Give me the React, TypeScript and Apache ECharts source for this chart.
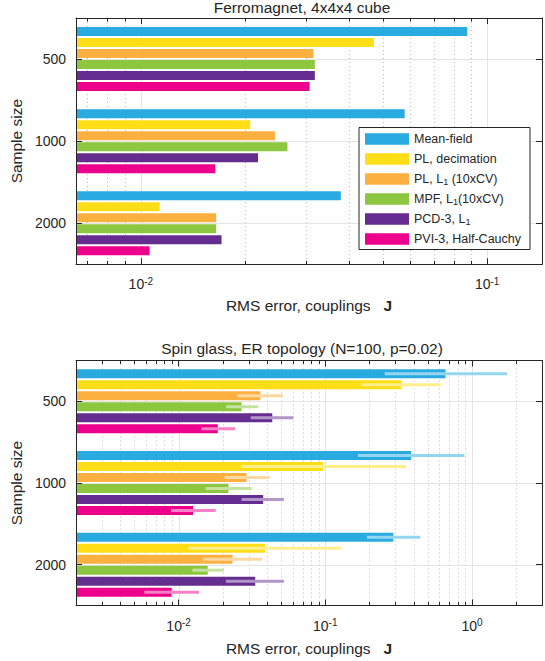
import React, { useEffect, useRef } from 'react';
import * as echarts from 'echarts';

// ---------- data ----------
const methods = ['Mean-field', 'PL, decimation', 'PL, L1 (10xCV)', 'MPF, L1(10xCV)', 'PCD-3, L1', 'PVI-3, Half-Cauchy'];
const sampleSizes = ['500', '1000', '2000'];
const colors = ['#29ABE2', '#FFDE17', '#FBB040', '#8DC63F', '#662D91', '#EC008C'];
const errColors = ['#94D5F0', '#FFEF8B', '#FDD8A0', '#C6E29F', '#B396C8', '#F580C5'];

// Ferromagnet, 4x4x4 cube: RMS error per sample size (500, 1000, 2000)
const ferroMeanField = [0.0876, 0.0578, 0.0378];
const ferroPLDecimation = [0.0471, 0.0207, 0.01133];
const ferroPLL1 = [0.0315, 0.0244, 0.0165];
const ferroMPFL1 = [0.0318, 0.0265, 0.0165];
const ferroPCD3 = [0.0318, 0.0218, 0.0171];
const ferroPVI3 = [0.0307, 0.0164, 0.0106];

// Spin glass, ER topology: mean, low, high per sample size
const spinMeanField = [0.66, 0.385, 0.291];
const spinMeanFieldLo = [0.254, 0.167, 0.1925];
const spinMeanFieldHi = [1.73, 0.888, 0.444];
const spinPLDecimation = [0.33, 0.0969, 0.0389];
const spinPLDecimationLo = [0.1775, 0.0267, 0.01167];
const spinPLDecimationHi = [0.612, 0.356, 0.128];
const spinPLL1 = [0.0361, 0.029, 0.0233];
const spinPLL1Lo = [0.0252, 0.0206, 0.01473];
const spinPLL1Hi = [0.0514, 0.0416, 0.0371];
const spinMPFL1 = [0.0269, 0.0219, 0.0158];
const spinMPFL1Lo = [0.0211, 0.0153, 0.01242];
const spinMPFL1Hi = [0.0349, 0.0315, 0.0203];
const spinPCD3 = [0.0435, 0.0377, 0.0333];
const spinPCD3Lo = [0.031, 0.0269, 0.021];
const spinPCD3Hi = [0.0606, 0.0522, 0.0522];
const spinPVI3 = [0.0185, 0.01255, 0.00897];
const spinPVI3Lo = [0.01428, 0.00888, 0.00584];
const spinPVI3Hi = [0.0243, 0.0179, 0.01377];

// axis ranges and gridline values
const ferroRange = [0.0065, 0.144];
const spinRange = [0.002, 3];
const ferroMajor = [0.01, 0.1];
const ferroMinor = [0.007, 0.008, 0.009, 0.02, 0.03, 0.04, 0.05, 0.06, 0.07, 0.08, 0.09];
const spinMajor = [0.01, 0.1, 1];
const spinMinor = [0.003, 0.004, 0.005, 0.006, 0.007, 0.008, 0.009, 0.02, 0.03, 0.04, 0.05, 0.06, 0.07, 0.08, 0.09, 0.2, 0.3, 0.4, 0.5, 0.6, 0.7, 0.8, 0.9, 2];

const ferroSeries = [ferroMeanField, ferroPLDecimation, ferroPLL1, ferroMPFL1, ferroPCD3, ferroPVI3];
const spinSeries = [spinMeanField, spinPLDecimation, spinPLL1, spinMPFL1, spinPCD3, spinPVI3];
const spinLo = [spinMeanFieldLo, spinPLDecimationLo, spinPLL1Lo, spinMPFL1Lo, spinPCD3Lo, spinPVI3Lo];
const spinHi = [spinMeanFieldHi, spinPLDecimationHi, spinPLL1Hi, spinMPFL1Hi, spinPCD3Hi, spinPVI3Hi];

// ---------- styling ----------
const FONT = 'Helvetica, Arial, "Liberation Sans", sans-serif';
const INK = '#262626';
const STEP = 11;
const BAR = 9;

function barRender(mi: number, withErr: boolean) {
  return (params: any, api: any) => {
    const cs = params.coordSys;
    const cat = api.value(1);
    const p = api.coord([api.value(0), cat]);
    const yc = p[1] + (mi - 2.5) * STEP;
    const children: any[] = [
      {
        type: 'rect',
        shape: { x: cs.x, y: yc - BAR / 2, width: Math.max(0, p[0] - cs.x), height: BAR },
        style: { fill: colors[mi] },
      },
    ];
    if (withErr) {
      const lo = api.coord([api.value(2), cat])[0];
      const hi = api.coord([api.value(3), cat])[0];
      children.push({
        type: 'line',
        shape: { x1: lo, y1: yc, x2: hi, y2: yc },
        style: { stroke: errColors[mi], lineWidth: 3, lineCap: 'butt' },
      });
    }
    return { type: 'group', children };
  };
}

function vGridRender(major: boolean) {
  return (params: any, api: any) => {
    const cs = params.coordSys;
    const x = Math.round(api.coord([api.value(0), 0])[0]) + 0.5;
    const children: any[] = [
      {
        type: 'line',
        shape: { x1: x, y1: cs.y, x2: x, y2: cs.y + cs.height },
        style: major
          ? { stroke: '#E4E4E4', lineWidth: 1 }
          : { stroke: '#BDBDBD', lineWidth: 1, lineDash: [1, 3] },
      },
    ];
    if (!major) {
      children.push({
        type: 'line',
        shape: { x1: x, y1: cs.y, x2: x, y2: cs.y + 3.5 },
        style: { stroke: INK, lineWidth: 1 },
      });
      children.push({
        type: 'line',
        shape: { x1: x, y1: cs.y + cs.height - 3.5, x2: x, y2: cs.y + cs.height },
        style: { stroke: INK, lineWidth: 1 },
      });
    }
    return { type: 'group', children };
  };
}

function hGridRender(params: any, api: any) {
  const cs = params.coordSys;
  const y = Math.round(api.coord([api.value(0), api.value(1)])[1]) + 0.5;
  return {
    type: 'line',
    shape: { x1: cs.x, y1: y, x2: cs.x + cs.width, y2: y },
    style: { stroke: '#E4E4E4', lineWidth: 1 },
  };
}

const logLabel = (v: number) => {
  const e = Math.log10(v);
  const r = Math.round(e);
  if (Math.abs(e - r) > 1e-6) return '';
  return `{b|10}{s|${r === 0 ? 0 : r}}`;
};

function xAxes(gridIndex: number, range: number[], nameGap: number) {
  const common = {
    type: 'log',
    logBase: 10,
    gridIndex,
    min: range[0],
    max: range[1],
    z: 3,
    axisLine: { show: true, lineStyle: { color: INK, width: 1 } },
    axisTick: { show: true, inside: true, length: 6, lineStyle: { color: INK, width: 1 } },
    splitLine: { show: false },
    minorTick: { show: false },
  };
  return [
    {
      ...common,
      position: 'bottom',
      name: 'RMS error, couplings   {j|J}',
      nameLocation: 'middle',
      nameGap,
      nameTextStyle: {
        fontSize: 15.5,
        color: INK,
        fontFamily: FONT,
        rich: { j: { fontSize: 15.5, fontWeight: 'bold', color: INK, fontFamily: FONT } },
      },
      axisLabel: {
        show: true,
        margin: 12,
        formatter: logLabel,
        rich: {
          b: { fontSize: 14, lineHeight: 16, color: INK, fontFamily: FONT },
          s: { fontSize: 10, lineHeight: 5, verticalAlign: 'top', color: INK, fontFamily: FONT },
        },
      },
    },
    { ...common, position: 'top', axisLabel: { show: false } },
  ];
}

function yAxes(gridIndex: number) {
  const common = {
    type: 'category',
    gridIndex,
    data: sampleSizes,
    inverse: true,
    z: 3,
    axisLine: { show: true, lineStyle: { color: INK, width: 1 } },
    axisTick: { show: true, inside: true, alignWithLabel: true, length: 6, lineStyle: { color: INK } },
    splitLine: { show: false },
  };
  return [
    {
      ...common,
      position: 'left',
      name: 'Sample size',
      nameLocation: 'middle',
      nameGap: 44.5,
      nameTextStyle: { fontSize: 15.5, color: INK, fontFamily: FONT },
      axisLabel: { show: true, margin: 10, fontSize: 14, color: INK, fontFamily: FONT },
    },
    { ...common, position: 'right', axisLabel: { show: false } },
  ];
}

function decorSeries(axisIdx: number, range: number[], major: number[], minor: number[]) {
  return [
    {
      type: 'custom',
      name: '_minor' + axisIdx,
      xAxisIndex: axisIdx,
      yAxisIndex: axisIdx,
      z: 1,
      silent: true,
      renderItem: vGridRender(false),
      data: minor.map((v) => [v, 0]),
    },
    {
      type: 'custom',
      name: '_major' + axisIdx,
      xAxisIndex: axisIdx,
      yAxisIndex: axisIdx,
      z: 1,
      silent: true,
      renderItem: vGridRender(true),
      data: major.map((v) => [v, 0]),
    },
    {
      type: 'custom',
      name: '_hgrid' + axisIdx,
      xAxisIndex: axisIdx,
      yAxisIndex: axisIdx,
      z: 1,
      silent: true,
      renderItem: hGridRender,
      data: sampleSizes.map((_, j) => [range[0], j]),
    },
  ];
}

const legendFormatter = (name: string) => {
  if (name.indexOf('L1') >= 0) {
    const parts = name.split('L1');
    return `{n|${parts[0]}L}{s|1}` + (parts[1] ? `{n|${parts[1]}}` : '');
  }
  return `{n|${name}}`;
};

export default function App() {
  const ref = useRef<HTMLDivElement>(null);

  useEffect(() => {
    if (!ref.current) return;
    const chart = echarts.init(ref.current, undefined, { renderer: 'svg' });

    const barSeries: any[] = [];
    methods.forEach((m, i) => {
      barSeries.push({
        type: 'custom',
        name: m,
        xAxisIndex: 0,
        yAxisIndex: 0,
        z: 2,
        itemStyle: { color: colors[i] },
        renderItem: barRender(i, false),
        data: ferroSeries[i].map((v, j) => [v, j]),
      });
    });
    methods.forEach((m, i) => {
      barSeries.push({
        type: 'custom',
        name: m,
        xAxisIndex: 2,
        yAxisIndex: 2,
        z: 2,
        itemStyle: { color: colors[i] },
        renderItem: barRender(i, true),
        data: spinSeries[i].map((v, j) => [v, j, spinLo[i][j], spinHi[i][j]]),
      });
    });

    const option: any = {
      animation: false,
      backgroundColor: '#ffffff',
      textStyle: { fontFamily: FONT, color: INK },
      grid: [
        { left: 72, top: 18, width: 471.5, height: 246.3, containLabel: false },
        { left: 72, top: 360.5, width: 471.5, height: 245, containLabel: false },
      ],
      xAxis: [...xAxes(0, ferroRange, 33), ...xAxes(1, spinRange, 35)],
      yAxis: [...yAxes(0), ...yAxes(1)],
      legend: {
        show: true,
        orient: 'vertical',
        left: 359,
        top: 127.5,
        icon: 'rect',
        itemWidth: 44,
        itemHeight: 11.5,
        itemGap: 5,
        padding: [4, 9, 3, 6],
        borderColor: INK,
        borderWidth: 1,
        backgroundColor: '#ffffff',
        z: 10,
        selectedMode: false,
        data: methods.map((m, i) => ({ name: m, itemStyle: { color: colors[i] } })),
        formatter: legendFormatter,
        textStyle: {
          fontFamily: FONT,
          color: INK,
          fontSize: 12.5,
          lineHeight: 15,
          rich: {
            n: { fontSize: 12.5, lineHeight: 15, color: INK, fontFamily: FONT },
            s: { fontSize: 9, lineHeight: 5, verticalAlign: 'bottom', color: INK, fontFamily: FONT },
          },
        },
      },
      graphic: [
        {
          type: 'text',
          x: 302,
          y: 7,
          style: {
            text: 'Ferromagnet, 4x4x4 cube',
            fill: INK,
            font: `15.5px ${FONT}`,
            textAlign: 'center',
            textVerticalAlign: 'middle',
          },
        },
        {
          type: 'text',
          x: 302,
          y: 348.5,
          style: {
            text: 'Spin glass, ER topology (N=100, p=0.02)',
            fill: INK,
            font: `15.5px ${FONT}`,
            textAlign: 'center',
            textVerticalAlign: 'middle',
          },
        },
      ],
      series: [
        ...decorSeries(0, ferroRange, ferroMajor, ferroMinor),
        ...decorSeries(2, spinRange, spinMajor, spinMinor),
        ...barSeries,
      ],
    };

    chart.setOption(option);
    return () => {
      chart.dispose();
    };
  }, []);

  return (
    <div
      ref={ref}
      style={{ position: 'absolute', left: 0, top: 0, width: 545, height: 661, background: '#fff' }}
    />
  );
}
